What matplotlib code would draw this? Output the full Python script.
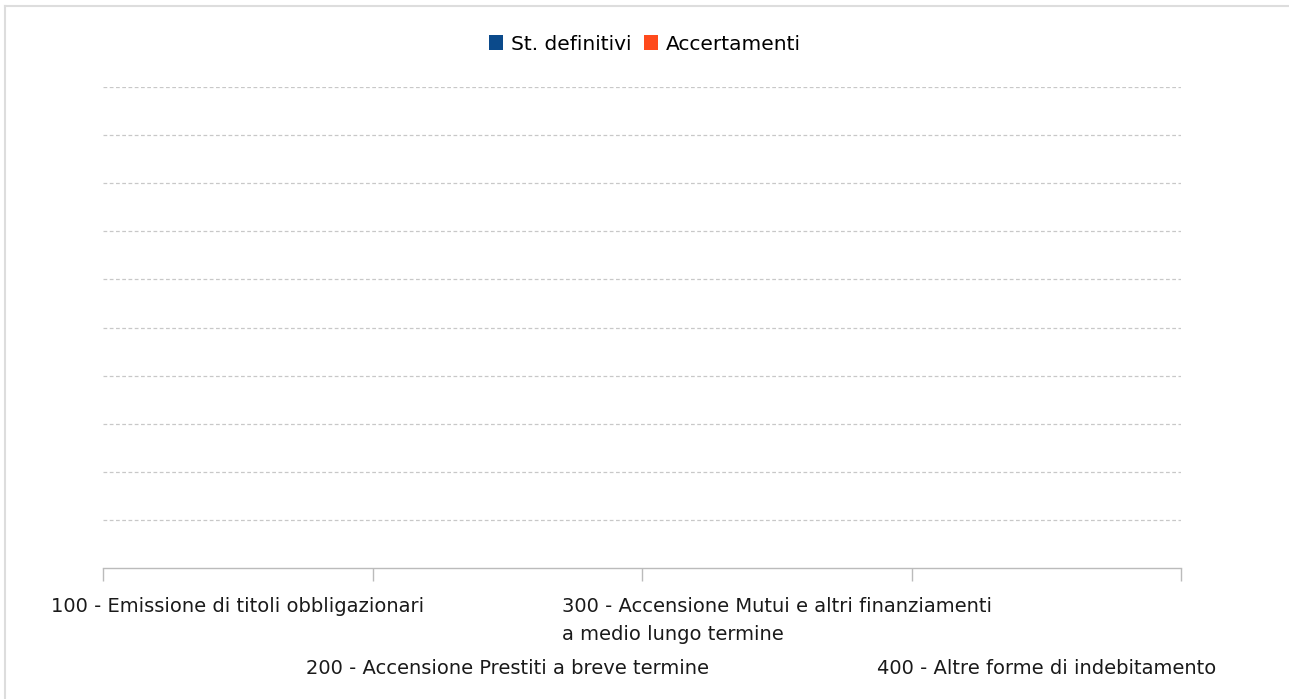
import matplotlib
matplotlib.use("Agg")
import matplotlib.pyplot as plt
from matplotlib.lines import Line2D
from matplotlib.patches import Patch
import matplotlib.transforms as mtransforms
import numpy as np

categories = [
    "100 - Emissione di titoli obbligazionari",
    "200 - Accensione Prestiti a breve termine",
    "300 - Accensione Mutui e altri finanziamenti\na medio lungo termine",
    "400 - Altre forme di indebitamento",
]
series_names = ["St. definitivi", "Accertamenti"]
st_definitivi = [0, 0, 0, 0]
accertamenti = [0, 0, 0, 0]
colors = ["#0b4a8b", "#ff4a1c"]

plt.rcParams['font.family'] = ['DejaVu Sans']
W, H = 1289, 699
fig = plt.figure(figsize=(W / 100, H / 100), dpi=100)
fig.patch.set_facecolor("white")

# outer border (only top and left visible)
fig.add_artist(Line2D([4.5 / W, 1.0], [1 - 5.5 / H, 1 - 5.5 / H], color="#dddddd", lw=1.5, transform=fig.transFigure))
fig.add_artist(Line2D([4.5 / W, 4.5 / W], [0, 1 - 5.5 / H], color="#dddddd", lw=1.5, transform=fig.transFigure))

left, right, top, bottom = 103, 1181, 87, 568
ax = fig.add_axes([left / W, 1 - bottom / H, (right - left) / W, (bottom - top) / H])
ax.set_facecolor("none")

x = np.arange(len(categories))
w = 0.35
ax.bar(x - w / 2, st_definitivi, w, color=colors[0])
ax.bar(x + w / 2, accertamenti, w, color=colors[1])

ax.set_xlim(-0.5, len(categories) - 0.5)
ax.set_ylim(0, 10)
for s in ["top", "right", "left"]:
    ax.spines[s].set_visible(False)
ax.spines["bottom"].set_color("#bbbbbb")
ax.spines["bottom"].set_linewidth(1.0)

ax.set_yticks(np.arange(1, 11))
ax.tick_params(axis="y", left=False, labelleft=False)
ax.yaxis.grid(True, linestyle=(0, (3, 2)), color="#c8c8c8", linewidth=0.9)
ax.set_axisbelow(True)

ax.set_xticks(np.arange(-0.5, len(categories)), labels=[])
ax.tick_params(axis="x", direction="out", length=9, color="#bbbbbb", width=1.0)

trans = mtransforms.blended_transform_factory(ax.transData, fig.transFigure)
fs = 14
rows_y = [597, 659, 597, 659]
for i, label in enumerate(categories):
    ax.text(i, 1 - rows_y[i] / H, label, transform=trans, ha="center", va="top",
            fontsize=fs, color="#1a1a1a", multialignment="left", linespacing=1.6)

handles = [Patch(facecolor=c, edgecolor="none") for c in colors]
fig.legend(handles, series_names, loc="center", bbox_to_anchor=(645 / W, 1 - 44 / H),
           ncol=2, frameon=False, fontsize=14.5, handlelength=0.7, handleheight=0.7,
           handletextpad=0.4, columnspacing=0.6)

fig.savefig("out.png", dpi=100)
